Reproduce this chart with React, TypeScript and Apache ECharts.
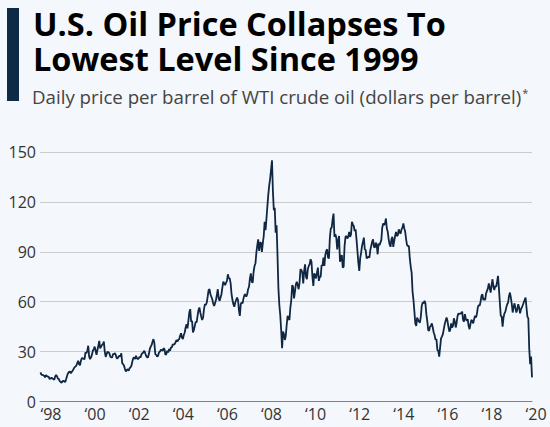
import React, { useEffect, useRef } from "react";
import * as echarts from "echarts";

const TITLE_LINE_1 = "U.S. Oil Price Collapses To";
const TITLE_LINE_2 = "Lowest Level Since 1999";
const SUBTITLE = "Daily price per barrel of WTI crude oil (dollars per barrel)";
const SUBTITLE_MARK = "*";

const START_YEAR = 1998;
const Y_TICKS = [0, 30, 60, 90, 120, 150];
const X_LABEL_YEARS = [1998, 2000, 2002, 2004, 2006, 2008, 2010, 2012, 2014, 2016, 2018, 2020];

// Semi-monthly readings (two per month, Jan..Dec), dollars per barrel
const p1998 = [17.5,16.2,16.0,15.8,15.5,14.5,15.8,15.2,15.0,14.8,13.5,13.8,14.3,13.8,13.5,13.0,15.0,16.0,15.2,13.8,13.5,12.2,11.8,11.2];
const p1999 = [12.2,12.5,12.0,11.8,13.5,15.5,17.0,17.8,18.0,17.0,17.8,18.5,19.5,20.5,21.0,21.5,23.0,24.5,22.5,21.8,24.5,26.0,26.0,25.6];
const p2000 = [25.5,29.5,29.0,30.5,33.5,27.0,25.5,26.5,28.0,30.5,31.5,33.0,30.5,28.0,31.0,33.5,36.5,32.0,33.0,34.0,34.5,36.0,30.0,26.8];
const p2001 = [28.5,30.0,29.5,29.0,27.0,26.5,26.5,28.5,28.5,29.0,28.0,26.0,26.0,27.0,27.5,27.0,29.0,23.0,22.5,21.5,19.5,18.0,19.0,19.5];
const p2002 = [18.5,20.0,20.5,21.5,24.0,26.0,26.5,25.5,27.5,26.0,25.5,26.0,27.0,26.5,28.5,29.0,29.5,30.5,29.0,27.5,26.5,26.5,28.5,31.5];
const p2003 = [33.0,34.0,36.0,37.5,35.0,28.5,28.0,27.0,27.5,29.5,30.0,31.0,31.0,30.5,32.0,31.5,28.0,28.5,30.5,29.5,31.5,30.5,32.5,32.5];
const p2004 = [34.5,34.0,34.5,35.5,37.0,36.0,37.0,37.5,39.5,41.0,38.5,37.5,40.0,41.5,44.5,46.5,44.0,48.5,53.5,55.5,48.0,48.5,41.5,43.0];
const p2005 = [45.5,48.0,47.5,51.5,55.0,56.5,53.5,51.0,49.0,50.5,55.5,58.5,58.0,59.5,63.0,67.0,67.5,64.5,63.0,61.5,59.0,57.5,59.0,61.0];
const p2006 = [64.0,67.5,62.0,60.5,62.5,64.5,68.5,72.0,71.0,70.0,71.5,72.5,76.5,74.0,74.0,71.0,64.5,61.0,58.5,57.0,59.5,61.0,62.5,61.0];
const p2007 = [55.0,51.5,58.5,59.5,59.0,62.0,64.0,64.5,63.0,64.5,67.5,69.0,74.0,77.0,72.0,71.5,78.0,81.5,83.0,89.5,94.0,97.5,90.5,95.5];
const p2008 = [95.5,90.0,95.0,99.5,108.0,103.0,110.0,117.5,124.5,130.0,134.0,139.5,145.0,126.5,115.0,116.5,101.5,106.0,88.0,68.0,58.0,52.0,43.0,32.0];
const p2009 = [42.0,40.5,37.0,39.5,46.0,51.5,50.0,49.0,56.5,61.0,70.0,69.0,62.0,66.0,70.5,72.0,70.0,67.5,71.5,79.5,79.0,77.5,71.0,78.5];
const p2010 = [82.5,75.0,73.5,79.5,81.5,82.5,85.5,84.0,75.0,69.5,77.0,76.0,74.0,77.5,80.5,72.5,75.0,75.0,82.0,81.5,86.5,81.5,88.0,90.5];
const p2011 = [91.5,86.5,86.0,98.5,104.0,104.5,109.5,113.0,99.0,100.5,98.5,91.5,96.5,99.5,84.0,86.5,88.0,80.5,81.0,93.5,99.0,99.5,98.0,99.0];
const p2012 = [102.0,99.0,100.5,108.0,106.5,105.5,102.5,103.5,97.5,90.5,83.5,78.5,86.0,89.5,93.5,96.0,98.5,91.5,91.0,86.0,86.5,87.0,86.5,91.0];
const p2013 = [93.5,96.0,97.5,93.0,92.5,95.5,94.0,88.5,95.0,94.0,95.5,97.0,104.5,107.0,106.0,107.0,110.0,104.0,102.0,97.5,94.5,93.0,97.5,99.0];
const p2014 = [93.0,96.5,99.5,102.0,99.5,100.0,103.5,101.5,101.0,103.5,104.5,107.0,104.0,102.0,97.5,94.0,93.5,93.5,86.0,81.0,77.5,66.0,61.0,54.0];
const p2015 = [47.0,45.5,50.5,49.0,48.0,47.5,51.0,57.5,59.5,59.0,60.5,59.0,52.5,48.5,43.0,42.5,45.0,45.5,47.0,44.5,41.5,40.0,37.0,37.5];
const p2016 = [31.0,30.5,27.0,32.5,38.0,39.0,40.5,43.5,46.5,48.5,50.5,48.5,45.0,42.0,43.0,47.0,44.5,45.5,50.0,48.0,44.5,47.5,51.5,53.0];
const p2017 = [52.5,53.0,53.0,54.0,49.0,48.0,52.5,49.5,48.5,49.5,45.5,43.5,46.5,49.0,48.5,47.0,49.5,51.5,50.5,52.5,56.5,58.0,57.5,60.0];
const p2018 = [63.5,64.5,61.0,62.0,61.0,65.0,66.5,68.0,71.0,68.0,65.5,70.0,73.5,69.0,67.0,69.5,69.0,72.0,75.5,68.0,59.5,51.5,51.0,45.0];
const p2019 = [50.5,53.0,54.0,56.5,58.5,59.5,63.5,65.5,62.5,58.5,53.5,57.0,59.0,56.0,53.5,55.5,58.5,56.5,53.0,55.5,56.5,58.0,59.5,61.0];
const p2020 = [62.5,56.5,51.0,50.0,31.5,22.5,27.0,14.5];

const YEARS = [p1998,p1999,p2000,p2001,p2002,p2003,p2004,p2005,p2006,p2007,p2008,p2009,p2010,p2011,p2012,p2013,p2014,p2015,p2016,p2017,p2018,p2019,p2020];

export default function App() {
  const ref = useRef<HTMLDivElement>(null);
  useEffect(() => {
    if (!ref.current) return;
    const chart = echarts.init(ref.current, undefined, { renderer: "svg" });
    const data: number[][] = [];
    YEARS.forEach((arr, yi) => {
      arr.forEach((v, i) => {
        data.push([START_YEAR + yi + (i + 0.5) / 24, v]);
      });
    });
    const last = data[data.length - 1][0];
    const titleStyle = {
      fontFamily: "Open Sans",
      fontWeight: "bold",
      fontSize: 32.5,
      lineHeight: 34,
      color: "#000000",
    };
    chart.setOption({
      animation: false,
      backgroundColor: "#f4f7fb",
      title: [
        { text: TITLE_LINE_1, left: 28, top: 1.5, textStyle: titleStyle },
        { text: TITLE_LINE_2, left: 28, top: 36.5, textStyle: titleStyle },
        {
          text: SUBTITLE + "{sup|" + SUBTITLE_MARK + "}",
          left: 27,
          top: 82,
          textStyle: {
            fontFamily: "Open Sans",
            fontWeight: "normal",
            fontSize: 18.7,
            color: "#444444",
            rich: {
              sup: {
                fontFamily: "Open Sans",
                fontSize: 11,
                color: "#444444",
                verticalAlign: "top",
                padding: [0, 0, 8, 1],
              },
            },
          },
        },
      ],
      graphic: [
        {
          type: "rect",
          shape: { x: 7, y: 8, width: 12, height: 93 },
          style: { fill: "#0f2a47" },
        },
      ],
      grid: { left: 40, right: 18, top: 152, bottom: 25.5 },
      xAxis: {
        type: "value",
        min: START_YEAR,
        max: last,
        interval: 2,
        axisLine: { show: true, lineStyle: { color: "#808080", width: 1 } },
        axisTick: { show: false },
        splitLine: { show: false },
        axisLabel: {
          showMaxLabel: false,
          fontFamily: "Open Sans",
          fontSize: 16,
          color: "#333333",
          margin: 4,
          padding: [0, 0, 0, 22],
          formatter: (v: number) =>
            X_LABEL_YEARS.indexOf(Math.round(v)) >= 0 && Math.abs(v - Math.round(v)) < 1e-6
              ? "\u2018" + String(Math.round(v)).slice(2)
              : "",
        },
      },
      yAxis: {
        type: "value",
        min: Y_TICKS[0],
        max: Y_TICKS[Y_TICKS.length - 1],
        interval: 30,
        axisLine: { show: false },
        axisTick: { show: false },
        splitLine: { show: true, lineStyle: { color: "#cccccc", width: 1 } },
        axisLabel: {
          fontFamily: "Open Sans",
          fontSize: 16,
          color: "#333333",
          margin: 4,
        },
      },
      series: [
        {
          type: "line",
          data,
          showSymbol: false,
          lineStyle: { color: "#0f2742", width: 1.8 },
          z: 3,
        },
      ],
    });
    return () => chart.dispose();
  }, []);
  return (
    <div
      ref={ref}
      style={{ position: "absolute", left: 0, top: 0, width: 550, height: 427 }}
    />
  );
}
